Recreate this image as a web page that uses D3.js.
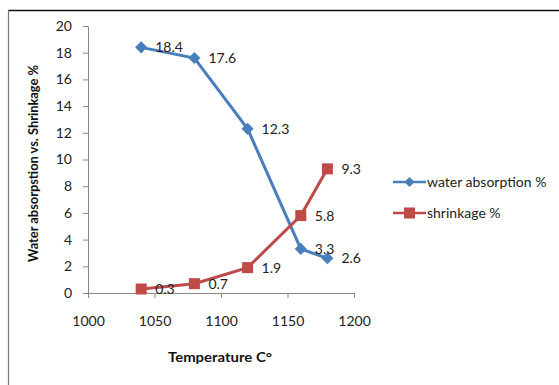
<!DOCTYPE html>
<html>
<head>
<meta charset="utf-8">
<script src="https://cdn.jsdelivr.net/npm/d3@7"></script>
<style>
  html, body { margin: 0; padding: 0; background: #fff; }
  svg { display: block; }
</style>
</head>
<body>
<svg id="chart" width="559" height="385"></svg>
<script>
// Firing temperature (°C) for each sample
const temperatures = [1040, 1080, 1120, 1160, 1180];
// Water absorption % per temperature
const waterAbsorption = [18.4, 17.6, 12.3, 3.3, 2.6];
// Shrinkage % per temperature
const shrinkage = [0.3, 0.7, 1.9, 5.8, 9.3];
const seriesNames = ["water absorption %", "shrinkage  %"];
const xTicks = [1000, 1050, 1100, 1150, 1200];
const yTicks = [0, 2, 4, 6, 8, 10, 12, 14, 16, 18, 20];

const font = "Lato, 'Open Sans', sans-serif";
const blue = "#4a7ebb";
const red = "#be4b48";
const fs = 14;

const svg = d3.select("#chart");

// chart frame
svg.append("line").attr("x1", 8).attr("x2", 559).attr("y1", 10.5).attr("y2", 10.5)
  .attr("stroke", "#111").attr("stroke-width", 1.5);
svg.append("line").attr("x1", 8.5).attr("x2", 8.5).attr("y1", 10).attr("y2", 385)
  .attr("stroke", "#777").attr("stroke-width", 1.2);

const x = d3.scaleLinear().domain([1000, 1200]).range([88, 354]);
const y = d3.scaleLinear().domain([0, 20]).range([293, 26]);

// y axis
const yAxis = svg.append("g").attr("transform", "translate(88,0)")
  .call(d3.axisLeft(y).tickValues(yTicks).tickSize(5).tickPadding(11).tickSizeOuter(0));
// x axis
const xAxis = svg.append("g").attr("transform", "translate(0,293)")
  .call(d3.axisBottom(x).tickValues(xTicks).tickFormat(d3.format("d"))
    .tickSize(5).tickPadding(18).tickSizeOuter(0));

[yAxis, xAxis].forEach(a => {
  a.select(".domain").attr("stroke", "#888");
  a.selectAll(".tick line").attr("stroke", "#888");
  a.selectAll(".tick text").attr("font-family", font).attr("font-size", fs).attr("fill", "#222");
});

// axis titles
svg.append("text")
  .attr("transform", "translate(38,163.5) rotate(-90)")
  .attr("text-anchor", "middle")
  .attr("font-family", font).attr("font-weight", "bold").attr("font-size", 13)
  .attr("textLength", 197).attr("lengthAdjust", "spacingAndGlyphs")
  .attr("fill", "#111")
  .text("Water absorpstion vs. Shrinkage  %");
svg.append("text")
  .attr("x", 220).attr("y", 362)
  .attr("text-anchor", "middle")
  .attr("font-family", font).attr("font-weight", "bold").attr("font-size", 14)
  .attr("textLength", 104).attr("lengthAdjust", "spacingAndGlyphs")
  .attr("fill", "#111")
  .text("Temperature  C°");

const line = d3.line().x((d, i) => x(temperatures[i])).y(d => y(d));

// water absorption series
svg.append("path").datum(waterAbsorption)
  .attr("d", line).attr("fill", "none").attr("stroke", blue).attr("stroke-width", 3);
svg.selectAll(".wa").data(waterAbsorption).enter().append("rect")
  .attr("class", "wa")
  .attr("x", -4.3).attr("y", -4.3).attr("width", 8.6).attr("height", 8.6)
  .attr("transform", (d, i) => `translate(${x(temperatures[i])},${y(d)}) rotate(45)`)
  .attr("fill", blue);

// shrinkage series
svg.append("path").datum(shrinkage)
  .attr("d", line).attr("fill", "none").attr("stroke", red).attr("stroke-width", 3);
svg.selectAll(".sh").data(shrinkage).enter().append("rect")
  .attr("class", "sh")
  .attr("x", (d, i) => x(temperatures[i]) - 5.5)
  .attr("y", d => y(d) - 5.5)
  .attr("width", 11).attr("height", 11)
  .attr("fill", red);

// value labels
function labels(values, cls) {
  svg.selectAll("." + cls).data(values).enter().append("text")
    .attr("class", cls)
    .attr("x", (d, i) => x(temperatures[i]) + 14)
    .attr("y", d => y(d) + 5)
    .attr("font-family", font).attr("font-size", fs).attr("fill", "#222")
    .text(d => d.toFixed(1));
}
labels(waterAbsorption, "wl");
labels(shrinkage, "sl");

// legend
const legend = svg.append("g").attr("transform", "translate(393,182)");
[[blue, "diamond"], [red, "square"]].forEach(([c, m], i) => {
  const g = legend.append("g").attr("transform", `translate(0,${i * 31})`);
  g.append("line").attr("x1", 0).attr("x2", 33).attr("stroke", c).attr("stroke-width", 2.5);
  if (m === "diamond") {
    g.append("rect").attr("x", -3.6).attr("y", -3.6).attr("width", 7.2).attr("height", 7.2)
      .attr("transform", "translate(16.5,0) rotate(45)").attr("fill", c);
  } else {
    g.append("rect").attr("x", 11).attr("y", -5.5).attr("width", 11).attr("height", 11).attr("fill", c);
  }
  g.append("text").attr("x", 34).attr("y", 5)
    .attr("font-family", font).attr("font-size", fs).attr("fill", "#222")
    .text(seriesNames[i]);
});
</script>
</body>
</html>
